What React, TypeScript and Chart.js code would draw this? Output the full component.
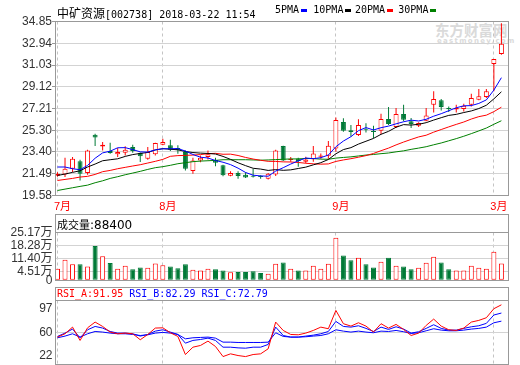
import React, { useEffect, useRef } from 'react';
import { Chart, registerables } from 'chart.js';

Chart.register(...registerables);

// ---------------- data ----------------
const monthTickIdx = [0, 14, 37, 58];
const monthTickLabels = ['7月', '8月', '9月', '3月'];
const priceTicks = [19.58, 21.49, 23.40, 25.30, 27.21, 29.12, 31.03, 32.94, 34.85];
const volumeTicks = [0, 4.51, 11.40, 18.28, 25.17];
const rsiTicks = [97, 60, 22];

const open = [21.32, 21.43, 21.93, 22.58, 21.55, 24.92, 23.87, 23.49, 23.19, 23.34,
  23.84, 23.31, 22.81, 23.19, 24.04, 23.98, 23.75, 23.40, 21.72, 22.66,
  22.96, 22.70, 22.23, 21.32, 21.55, 21.40, 21.32, 21.30, 21.05, 21.43,
  23.92, 22.70, 22.83, 22.54, 22.77, 22.98, 23.07, 23.70, 26.04, 25.30,
  24.89, 25.40, 25.22, 25.27, 26.30, 25.60, 26.73, 26.09, 25.71, 26.15,
  27.55, 27.93, 27.26, 27.12, 27.17, 27.55, 27.99, 28.22, 31.12, 31.99];
const close = [21.48, 21.93, 22.81, 21.49, 23.54, 24.66, 24.04, 23.31, 23.40, 23.60,
  23.49, 23.02, 23.40, 24.19, 24.28, 23.60, 23.55, 21.93, 22.66, 22.90,
  23.20, 22.45, 21.35, 21.55, 21.30, 21.15, 21.22, 21.20, 21.49, 23.54,
  22.65, 22.80, 22.60, 22.75, 23.27, 23.10, 23.95, 26.21, 25.27, 25.15,
  25.77, 25.30, 25.15, 26.30, 25.85, 26.73, 26.23, 25.85, 25.95, 26.61,
  28.05, 27.35, 27.15, 27.25, 27.46, 28.14, 28.28, 28.72, 31.55, 32.89];
const high = [21.62, 22.90, 22.96, 22.72, 23.60, 25.00, 24.28, 24.22, 23.75, 23.90,
  24.04, 23.35, 23.84, 24.22, 24.57, 24.48, 23.98, 23.54, 22.90, 23.10,
  23.54, 22.90, 22.28, 21.70, 21.70, 21.62, 21.90, 21.35, 21.55, 23.60,
  23.95, 22.95, 22.90, 22.98, 23.92, 23.27, 24.36, 26.42, 26.36, 25.77,
  26.27, 25.92, 25.71, 26.75, 27.35, 27.26, 27.55, 26.38, 26.00, 27.26,
  28.72, 28.05, 27.40, 27.55, 27.63, 28.51, 28.93, 28.93, 31.55, 34.70];
const low = [21.22, 21.20, 21.64, 20.90, 21.40, 23.93, 23.54, 23.25, 22.96, 23.10,
  23.34, 22.52, 22.72, 23.10, 23.98, 23.49, 23.25, 21.78, 21.49, 22.50,
  22.75, 22.15, 21.27, 21.28, 21.05, 21.12, 21.15, 21.05, 20.98, 21.30,
  22.60, 22.55, 22.10, 22.40, 22.54, 22.80, 22.80, 23.42, 25.18, 24.75,
  24.80, 25.10, 24.60, 24.95, 25.77, 25.51, 26.09, 25.51, 25.60, 26.09,
  26.87, 27.05, 26.90, 26.87, 26.96, 27.40, 27.93, 28.14, 28.72, 31.93];

const ma5 = [22.08, 22.08, 21.93, 21.84, 22.22, 22.85, 23.32, 23.47, 23.77, 23.78,
  23.61, 23.41, 23.39, 23.58, 23.68, 23.68, 23.70, 23.48, 23.18, 22.94,
  22.87, 22.65, 22.50, 22.29, 21.98, 21.60, 21.36, 21.30, 21.27, 21.72,
  22.02, 22.34, 22.62, 22.87, 22.81, 22.90, 23.13, 23.86, 24.36, 24.74,
  25.27, 25.54, 25.33, 25.53, 25.67, 25.87, 26.05, 26.19, 26.12, 26.27,
  26.54, 26.76, 27.02, 27.28, 27.45, 27.47, 27.66, 27.97, 28.83, 29.92];
const ma10 = [21.34, 21.46, 21.61, 21.75, 22.08, 22.34, 22.63, 22.72, 22.80, 23.01,
  23.17, 23.27, 23.36, 23.58, 23.69, 23.64, 23.59, 23.44, 23.35, 23.30,
  23.27, 23.22, 23.01, 22.75, 22.45, 22.20, 21.97, 21.90, 21.78, 21.85,
  21.79, 21.83, 21.95, 22.07, 22.27, 22.46, 22.74, 23.24, 23.61, 23.78,
  24.09, 24.34, 24.59, 24.95, 25.21, 25.57, 25.80, 25.76, 25.83, 25.97,
  26.20, 26.41, 26.61, 26.70, 26.86, 27.00, 27.21, 27.50, 28.06, 28.68];
const ma20 = [20.90, 20.99, 21.08, 21.20, 21.26, 21.43, 21.67, 21.78, 21.93, 22.05,
  22.17, 22.28, 22.43, 22.58, 22.75, 23.02, 23.08, 23.10, 23.13, 23.17,
  23.25, 23.28, 23.20, 23.21, 23.09, 22.92, 22.78, 22.67, 22.58, 22.57,
  22.53, 22.52, 22.48, 22.41, 22.36, 22.33, 22.35, 22.57, 22.70, 22.81,
  22.94, 23.08, 23.27, 23.51, 23.74, 24.02, 24.27, 24.50, 24.72, 24.87,
  25.14, 25.37, 25.60, 25.82, 26.03, 26.29, 26.50, 26.63, 26.94, 27.33];
const ma30 = [20.02, 20.14, 20.26, 20.38, 20.49, 20.70, 20.87, 21.08, 21.23, 21.40,
  21.55, 21.70, 21.87, 22.02, 22.11, 22.23, 22.37, 22.46, 22.55, 22.60,
  22.63, 22.66, 22.72, 22.72, 22.72, 22.72, 22.70, 22.68, 22.70, 22.73,
  22.76, 22.79, 22.79, 22.83, 22.82, 22.77, 22.76, 22.86, 22.92, 22.97,
  23.05, 23.13, 23.18, 23.25, 23.31, 23.41, 23.50, 23.63, 23.74, 23.86,
  24.03, 24.19, 24.38, 24.57, 24.78, 25.01, 25.25, 25.50, 25.83, 26.14];

// volume in 万 (10k shares)
const volume = [6.1, 10.8, 8.4, 8.4, 7.3, 18.0, 12.6, 9.1, 6.1, 7.7,
  5.8, 6.8, 6.6, 8.9, 7.9, 7.3, 6.3, 8.4, 5.6, 5.2,
  6.1, 5.8, 5.2, 4.2, 4.4, 4.4, 4.7, 3.8, 3.5, 8.7,
  9.4, 6.1, 5.2, 5.1, 7.7, 6.1, 8.7, 22.4, 13.1, 10.5,
  11.9, 8.4, 6.8, 9.8, 11.9, 7.7, 7.3, 5.8, 6.6, 9.3,
  12.4, 9.4, 5.8, 5.1, 5.1, 7.7, 6.6, 6.1, 15.0, 8.84];

const rsiA = [54.1, 58.0, 65.8, 50.2, 65.0, 71.7, 66.6, 60.0, 58.0, 58.8,
  58.0, 51.0, 57.2, 64.7, 65.0, 59.2, 54.9, 33.7, 42.3, 44.3,
  49.4, 43.1, 31.3, 34.5, 32.5, 31.3, 33.7, 34.5, 40.4, 71.7,
  61.9, 57.2, 56.8, 58.8, 61.9, 65.8, 63.9, 85.4, 69.8, 67.0,
  70.9, 67.0, 60.0, 69.8, 64.7, 69.0, 63.1, 56.0, 58.8, 67.8,
  75.2, 67.0, 62.7, 61.9, 64.7, 71.7, 73.7, 76.8, 87.4, 91.95];
const rsiB = [54.9, 58.8, 63.5, 53.3, 62.7, 66.6, 64.7, 60.7, 58.8, 58.8,
  58.0, 55.3, 57.2, 61.1, 62.7, 60.0, 57.2, 47.0, 50.2, 51.3,
  52.9, 50.2, 42.3, 42.3, 41.5, 41.1, 42.3, 42.3, 45.5, 65.8,
  56.0, 54.1, 54.1, 55.3, 56.4, 58.0, 60.7, 72.5, 66.6, 65.8,
  67.4, 64.3, 60.7, 65.8, 63.1, 66.2, 63.5, 58.8, 60.4, 64.3,
  68.6, 64.3, 62.3, 62.3, 64.3, 66.2, 67.4, 70.2, 80.0, 82.29];
const rsiC = [53.3, 55.3, 58.0, 54.1, 58.0, 60.7, 60.0, 58.8, 58.0, 58.0,
  57.2, 56.0, 56.8, 58.8, 59.6, 58.8, 57.2, 52.1, 53.3, 53.7,
  54.1, 52.9, 48.2, 48.2, 47.8, 47.8, 47.8, 47.8, 48.2, 59.2,
  54.9, 54.1, 54.1, 54.5, 55.3, 56.0, 58.0, 62.7, 61.1, 60.0,
  61.1, 60.0, 59.2, 61.1, 60.7, 61.9, 60.4, 58.4, 59.2, 61.5,
  63.9, 62.3, 61.5, 61.5, 62.3, 63.5, 64.3, 65.8, 70.9, 72.79];

const maNames = ['5PMA', '10PMA', '20PMA', '30PMA'];
const rsiNames = ['RSI_A', 'RSI_B', 'RSI_C'];

// ---------------- style ----------------
const RED = '#ff0000';
const GREEN = '#007a37';
const BLUE = '#0000ff';
const MA_GREEN = '#008000';
const FRAME = '#999999';
const GRID = '#d3d3d3';
const DASH = '#c4c4c4';
const TXT = '#333333';
const maColors = ['#0000ff', '#000000', '#ff0000', MA_GREEN];
const rsiColors = [RED, BLUE, BLUE];
const legendX = [275, 313.3, 355, 398.3];

const X_MIN = -0.332;
const X_MAX = 59.944;
const AXIS_FONT = { family: "'Liberation Sans', 'Noto Sans CJK SC', sans-serif", size: 12 };

function makeX(showLabels: boolean): any {
  return {
    type: 'linear',
    min: X_MIN,
    max: X_MAX,
    offset: false,
    afterBuildTicks: (s: any) => { s.ticks = monthTickIdx.map((v) => ({ value: v })); },
    afterFit: (s: any) => { s.height = showLabels ? 16.5 : 0; },
    grid: { color: DASH, lineWidth: 1, drawTicks: false, offset: false },
    border: { display: false, dash: [3, 3] },
    ticks: {
      display: showLabels,
      autoSkip: false,
      maxRotation: 0,
      padding: 5,
      labelOffset: 5,
      color: RED,
      font: { family: "'Liberation Sans', 'Noto Sans CJK SC', sans-serif", size: 11 },
      callback: (_v: any, i: number) => monthTickLabels[i],
    },
  };
}

function framePlugin(extraTop: number, separator: boolean) {
  return {
    id: 'frame' + extraTop,
    afterDraw(chart: any) {
      const { ctx, chartArea: a } = chart;
      ctx.save();
      ctx.strokeStyle = FRAME;
      ctx.lineWidth = 1;
      const l = Math.floor(a.left) + 0.5;
      const r = Math.floor(a.right) + 0.5;
      const t = Math.floor(a.top - extraTop) + 0.5;
      const b = Math.floor(a.bottom) + 0.5;
      ctx.strokeRect(l, t, r - l, b - t);
      if (separator) {
        const s = Math.floor(a.top) + 0.5;
        ctx.beginPath();
        ctx.moveTo(l, s);
        ctx.lineTo(r, s);
        ctx.stroke();
      }
      ctx.restore();
    },
  };
}

const rsiLabelOffsets = [8.5, 1, -8.7];
const rsiLabelPlugin = {
  id: 'rsiLabels',
  afterDraw(chart: any) {
    const { ctx, chartArea: a } = chart;
    const ys = chart.scales.y;
    ctx.save();
    ctx.fillStyle = TXT;
    ctx.font = "12px 'Liberation Sans', sans-serif";
    ctx.textAlign = 'right';
    ctx.textBaseline = 'middle';
    rsiTicks.forEach((v, i) => {
      ctx.fillText(String(v), a.left - 2.5, ys.getPixelForValue(v) + rsiLabelOffsets[i]);
    });
    ctx.restore();
  },
};

const idx = close.map((_, i) => i);
const up = idx.map((i) => close[i] >= open[i]);
const pts = (arr: number[]) => arr.map((y, x) => ({ x, y }));

const baseOpts = (padding: any) => ({
  responsive: false,
  maintainAspectRatio: false,
  animation: false as const,
  events: [] as any[],
  layout: { padding },
  plugins: { legend: { display: false }, tooltip: { enabled: false } },
});

export default function App() {
  const mainRef = useRef<HTMLCanvasElement>(null);
  const volRef = useRef<HTMLCanvasElement>(null);
  const rsiRef = useRef<HTMLCanvasElement>(null);

  useEffect(() => {
    const charts: Chart[] = [];

    // ---------- main K-line ----------
    charts.push(new Chart(mainRef.current as HTMLCanvasElement, {
      type: 'bar',
      data: {
        datasets: [
          ...[ma5, ma10, ma20, ma30].map((arr, k) => ({
            type: 'line' as const,
            data: pts(arr),
            borderColor: maColors[k],
            borderWidth: 1,
            pointRadius: 0,
            tension: 0,
            fill: false,
            order: 1,
          })),
          {
            type: 'bar' as const,
            data: idx.map((i) => ({ x: i, y: [open[i], close[i]] })) as any,
            backgroundColor: idx.map((i) => (up[i] ? '#ffffff' : GREEN)),
            borderColor: idx.map((i) => (up[i] ? RED : GREEN)),
            borderWidth: 1,
            borderSkipped: false,
            barThickness: 5,
            minBarLength: 1,
            grouped: false,
            inflateAmount: 0,
            order: 2,
          },
          {
            type: 'bar' as const,
            data: idx.map((i) => ({ x: i, y: [low[i], high[i]] })) as any,
            backgroundColor: idx.map((i) => (up[i] ? RED : GREEN)),
            borderWidth: 0,
            barThickness: 1,
            grouped: false,
            inflateAmount: 0,
            order: 3,
          },
        ],
      },
      options: {
        ...baseOpts({ top: 21.5, right: 11.5, bottom: 0, left: 0 }),
        scales: {
          x: makeX(true),
          y: {
            type: 'linear',
            min: priceTicks[0],
            max: priceTicks[priceTicks.length - 1],
            afterBuildTicks: (s: any) => { s.ticks = priceTicks.map((v) => ({ value: v })); },
            afterFit: (s: any) => { s.width = 55; },
            grid: { color: GRID, drawTicks: true, tickLength: 3, tickColor: FRAME },
            border: { display: false },
            ticks: { autoSkip: false, padding: 0, color: TXT, font: AXIS_FONT, callback: (v: any) => Number(v).toFixed(2) },
          },
        } as any,
      } as any,
      plugins: [framePlugin(0, false)],
    }));

    // ---------- volume ----------
    charts.push(new Chart(volRef.current as HTMLCanvasElement, {
      type: 'bar',
      data: {
        datasets: [{
          data: idx.map((i) => ({ x: i, y: volume[i] })) as any,
          backgroundColor: idx.map((i) => (up[i] ? '#ffffff' : GREEN)),
          borderColor: idx.map((i) => (up[i] ? RED : GREEN)),
          borderWidth: 1,
          borderSkipped: false,
          barThickness: 5,
          grouped: false,
          inflateAmount: 0,
        }],
      },
      options: {
        ...baseOpts({ top: 22.5, right: 11.5, bottom: 9.5, left: 0 }),
        scales: {
          x: makeX(false),
          y: {
            type: 'linear',
            min: 0,
            max: volumeTicks[volumeTicks.length - 1],
            afterBuildTicks: (s: any) => { s.ticks = volumeTicks.map((v) => ({ value: v })); },
            afterFit: (s: any) => { s.width = 55; },
            grid: { color: GRID, drawTicks: false },
            border: { display: false },
            ticks: {
              autoSkip: false,
              padding: 2.5, color: TXT, font: AXIS_FONT,
              callback: (v: any) => (Number(v) === 0 ? '0' : Number(v).toFixed(2) + '万'),
            },
          },
        } as any,
      } as any,
      plugins: [framePlugin(18, true)],
    }));

    // ---------- RSI ----------
    charts.push(new Chart(rsiRef.current as HTMLCanvasElement, {
      type: 'line',
      data: {
        datasets: [rsiA, rsiB, rsiC].map((arr, k) => ({
          data: pts(arr),
          borderColor: rsiColors[k],
          borderWidth: 1,
          pointRadius: 0,
          tension: 0,
          fill: false,
        })),
      },
      options: {
        ...baseOpts({ top: 15.5, right: 11.5, bottom: 0.5, left: 0 }),
        scales: {
          x: makeX(false),
          y: {
            type: 'linear',
            min: rsiTicks[2],
            max: rsiTicks[0],
            afterBuildTicks: (s: any) => { s.ticks = rsiTicks.map((v) => ({ value: v })); },
            afterFit: (s: any) => { s.width = 55; },
            grid: {
              drawTicks: false,
              color: (c: any) => (c.tick && c.tick.value === 60 ? GRID : 'rgba(0,0,0,0)'),
            },
            border: { display: false },
            ticks: { display: false },
          },
        } as any,
      } as any,
      plugins: [framePlugin(13, true), rsiLabelPlugin],
    }));

    return () => charts.forEach((c) => c.destroy());
  }, []);

  const mono = "'DejaVu Sans Mono', 'Liberation Mono', monospace";
  const cjk = "'Noto Sans CJK SC', sans-serif";
  const lastVol = Math.round(volume[volume.length - 1] * 10000);
  const rsiLast = [rsiA, rsiB, rsiC].map((a) => a[a.length - 1].toFixed(2));

  return (
    <div style={{ position: 'absolute', left: 0, top: 0, width: 520, height: 365, background: '#fff', overflow: 'hidden' }}>
      {/* watermark */}
      <div style={{ position: 'absolute', left: 435, top: 21, font: `bold 14.5px ${cjk}`, color: '#dadada', lineHeight: '17px', whiteSpace: 'nowrap' }}>东方财富网</div>
      <div style={{ position: 'absolute', left: 437, top: 37, font: "bold 7px 'DejaVu Sans', sans-serif", color: '#dadada', letterSpacing: '1.3px', lineHeight: '8px', whiteSpace: 'nowrap' }}>eastmoney.com</div>

      <canvas ref={mainRef} width={520} height={212} style={{ position: 'absolute', left: 0, top: 0, width: 520, height: 212 }} />
      <canvas ref={volRef} width={520} height={80} style={{ position: 'absolute', left: 0, top: 210, width: 520, height: 80 }} />
      <canvas ref={rsiRef} width={520} height={80} style={{ position: 'absolute', left: 0, top: 285, width: 520, height: 80 }} />

      {/* title */}
      <div style={{ position: 'absolute', left: 57, top: 4, height: 12, lineHeight: '12px', whiteSpace: 'nowrap', color: '#000' }}>
        <span style={{ font: `12px ${cjk}` }}>中矿资源</span>
        <span style={{ font: `10px ${mono}` }}>[002738] 2018-03-22 11:54</span>
      </div>
      {maNames.map((n, k) => (
        <div key={n} style={{ position: 'absolute', left: legendX[k], top: 4, lineHeight: '12px', whiteSpace: 'nowrap', color: '#000', font: `10px ${mono}` }}>
          {n}
          <span style={{ display: 'inline-block', width: 6, height: 3, marginLeft: 2, background: maColors[k], verticalAlign: 'middle' }} />
        </div>
      ))}

      {/* volume header */}
      <div style={{ position: 'absolute', left: 57, top: 216, lineHeight: '14px', whiteSpace: 'nowrap', color: '#000' }}>
        <span style={{ font: `11px ${cjk}` }}>成交量</span>
        <span style={{ font: "12px 'DejaVu Sans', sans-serif" }}>:{lastVol}</span>
      </div>

      {/* RSI header */}
      <div style={{ position: 'absolute', left: 57, top: 288, lineHeight: '10px', whiteSpace: 'pre', font: `10px ${mono}` }}>
        {rsiNames.map((n, k) => (
          <span key={n} style={{ color: rsiColors[k] }}>{(k ? ' ' : '') + n + ':' + rsiLast[k]}</span>
        ))}
      </div>
    </div>
  );
}
